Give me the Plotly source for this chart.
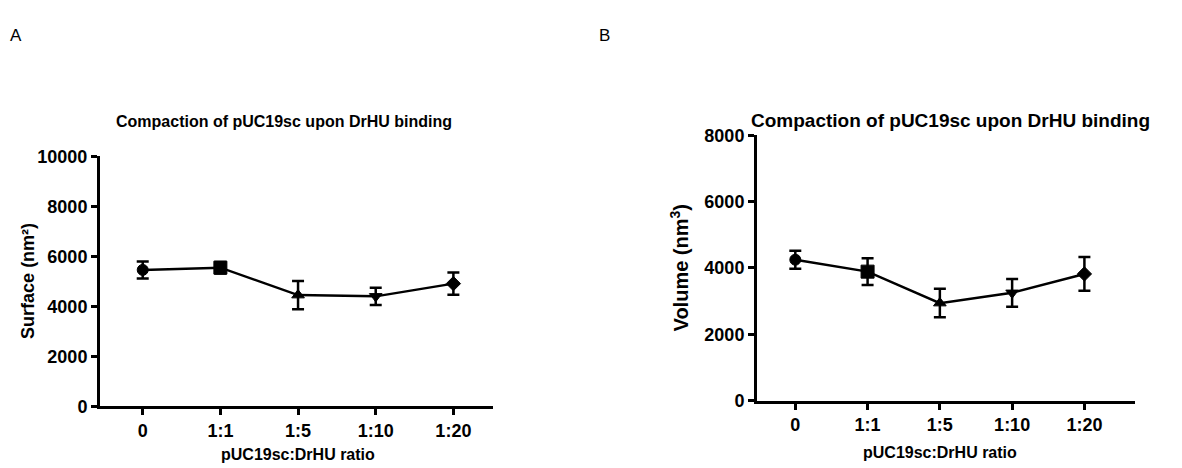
import plotly.graph_objects as go

# Category labels (protein:DNA ratio)
ratios = ["0", "1:1", "1:5", "1:10", "1:20"]

# Panel A: projected surface of the plasmid (nm^2), mean and SEM
surface_mean = [5460, 5550, 4450, 4400, 4910]
surface_err = [340, 230, 570, 350, 450]

# Panel B: volume of the plasmid (nm^3), mean and SEM
volume_mean = [4250, 3890, 2940, 3250, 3820]
volume_err = [270, 400, 430, 420, 510]

symbols = ["circle", "square", "triangle-up", "triangle-down", "diamond"]
sizes = [11, 13, 11, 11, 11]

FONT = "Liberation Sans, Arial, sans-serif"

fig = go.Figure()


def add_series(means, errs, xa, ya):
    fig.add_trace(go.Scatter(
        x=ratios, y=means, xaxis=xa, yaxis=ya,
        mode="lines+markers",
        line=dict(color="black", width=2.5),
        marker=dict(symbol=symbols, size=sizes, color="black", opacity=1,
                    line=dict(width=1, color="black")),
        error_y=dict(type="data", array=errs, visible=True,
                     color="black", thickness=2.5, width=6),
        showlegend=False, hoverinfo="skip",
    ))


add_series(surface_mean, surface_err, "x", "y")
add_series(volume_mean, volume_err, "x2", "y2")

W, H = 1182, 468


def px_x(p):
    return p / W


def px_y(p):
    return 1 - p / H


axis_common = dict(
    showline=True, linewidth=3, linecolor="black", mirror=False,
    ticks="outside", ticklen=6, tickwidth=3, tickcolor="black",
    showgrid=False, zeroline=False,
    tickfont=dict(family=FONT, size=18, color="black", weight="bold"),
)

fig.update_layout(
    width=W, height=H,
    margin=dict(l=0, r=0, t=0, b=0),
    paper_bgcolor="white", plot_bgcolor="white",
    xaxis=dict(axis_common, domain=[px_x(100), px_x(493)],
               range=[-0.55, 4.51], anchor="y", type="category"),
    yaxis=dict(axis_common, domain=[px_y(414), px_y(153)],
               range=[0, 10000], tickvals=[0, 2000, 4000, 6000, 8000, 10000],
               tickformat="d", anchor="x"),
    xaxis2=dict(axis_common, domain=[px_x(757), px_x(1135)],
                range=[-0.53, 4.7], anchor="y2", type="category"),
    yaxis2=dict(axis_common, domain=[px_y(408), px_y(131)],
                range=[0, 8000], tickvals=[0, 2000, 4000, 6000, 8000],
                tickformat="d", anchor="x2"),
)


def bold(size):
    return dict(family=FONT, size=size, color="black", weight="bold")


label_font = dict(family=FONT, size=17, color="black")

annotations = [
    # panel letters
    dict(text="A", x=px_x(8), y=px_y(27), xanchor="left", yanchor="middle",
         font=label_font),
    dict(text="B", x=px_x(597), y=px_y(27), xanchor="left", yanchor="middle",
         font=label_font),
    # panel titles
    dict(text="Compaction of pUC19sc upon DrHU binding", x=px_x(284),
         y=px_y(116), xanchor="center", yanchor="middle", font=bold(16)),
    dict(text="Compaction of pUC19sc upon DrHU binding", x=px_x(950),
         y=px_y(115), xanchor="center", yanchor="middle", font=bold(19)),
    # x-axis titles
    dict(text="pUC19sc:DrHU ratio", x=px_x(298), y=px_y(464),
         xanchor="center", yanchor="middle", font=bold(16)),
    dict(text="pUC19sc:DrHU ratio", x=px_x(940), y=px_y(462),
         xanchor="center", yanchor="middle", font=bold(16)),
    # y-axis titles
    dict(text="Surface (nm²)", x=px_x(28), y=px_y(283), textangle=-90,
         xanchor="center", yanchor="middle", font=bold(18)),
    dict(text="Volume (nm<sup>3</sup>)", x=px_x(679), y=px_y(270),
         textangle=-90, xanchor="center", yanchor="middle", font=bold(20)),
]
for a in annotations:
    a.update(xref="paper", yref="paper", showarrow=False)
fig.update_layout(annotations=annotations)

fig.write_html("out.html")
